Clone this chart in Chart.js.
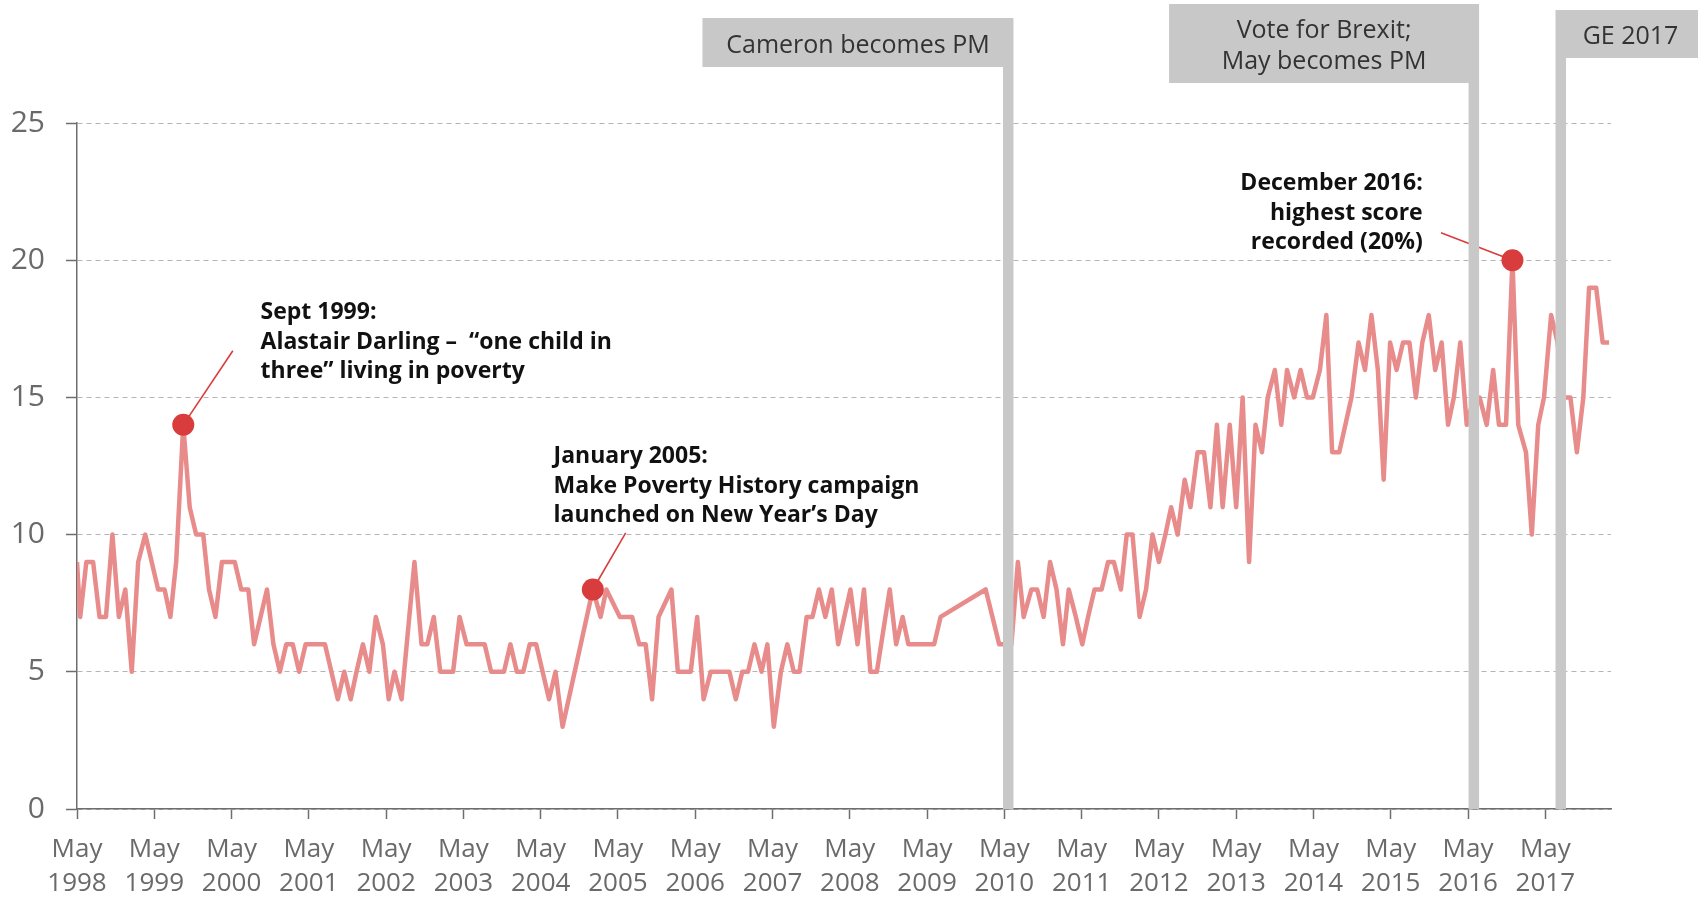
<!DOCTYPE html>
<html>
<head>
<meta charset="utf-8">
<script src="https://cdn.jsdelivr.net/npm/chart.js@4.4.1/dist/chart.umd.min.js"></script>
<style>
	html, body { margin: 0; padding: 0; background: #fff; }
	#chart { display: block; }
</style>
</head>
<body>
<canvas id="chart" width="1698" height="897"></canvas>
<script>
// x values are months counted from May 1998 (the "May 1998" tick is 0)
let MONTHS = [
	0, 0.5, 1.45, 2.5, 3.5, 4.5, 5.5, 6.5, 7.5, 8.5, 9.5, 10.6, 11.6, 12.6, 13.6, 14.5, 15.4, 16.5, 17.5, 18.5,
	19.6, 20.5, 21.5, 22.5, 23.5, 24.5, 25.5, 26.6, 27.5, 28.5, 29.5, 30.5, 31.5, 32.5, 33.5, 34.5, 35.5, 36.5, 37.5, 38.5,
	39.5, 40.5, 41.5, 42.5, 43.4, 44.4, 45.4, 46.4, 47.5, 48.4, 49.3, 50.4, 52.4, 53.5, 54.4, 55.4, 56.4, 57.4, 58.4, 59.4,
	60.5, 61.5, 62.5, 63.3, 64.3, 65.3, 66.3, 67.3, 68.3, 69.3, 70.3, 71.3, 72.3, 73.3, 74.3, 75.4, 80.1, 81.3, 82.2, 84.3,
	85.3, 86.2, 87.3, 88.3, 89.3, 90.3, 92.3, 93.3, 94.3, 95.3, 96.3, 97.3, 98.4, 99.3, 100.3, 101.3, 102.3, 103.3, 104.2, 105.2,
	106.3, 107.2, 108.2, 109.3, 110.3, 111.3, 112.2, 113.3, 114.2, 115.2, 116.2, 117.2, 118.2, 120.1, 121.2, 122.2, 123.2, 124.2, 126.2, 127.2,
	128.2, 129.1, 130.1, 131.1, 132.0, 133.1, 134.1, 141.1, 143.2, 145.1, 146.1, 147.0, 148.2, 149.1, 150.1, 151.1, 152.1, 153.1, 154.0, 155.1,
	156.1, 157.0, 158.0, 159.1, 160.1, 161.0, 162.1, 163.0, 163.9, 165.0, 166.0, 167.0, 168.0, 169.0, 169.9, 170.9, 172.0, 172.9, 174.0, 175.0,
	176.0, 177.0, 177.9, 179.0, 180.0, 181.0, 182.0, 183.0, 184.0, 184.9, 186.0, 187.0, 187.9, 189.0, 190.0, 191.0, 191.9, 193.0, 194.0, 194.9,
	196.0, 197.9, 199.0, 200.0, 201.0, 202.0, 202.9, 203.9, 204.9, 205.9, 206.9, 207.9, 208.9, 209.9, 210.9, 211.9, 212.9, 213.8, 214.8, 215.8,
	216.9, 217.8, 218.9, 219.9, 220.8, 221.9, 222.9, 223.8, 225.0, 225.9, 226.9, 227.8, 228.9, 229.9, 230.8, 231.9, 232.9, 233.9, 234.8, 235.9,
	236.9, 237.9,
];
let SCORES = [
	9, 7, 9, 9, 7, 7, 10, 7, 8, 5, 9, 10, 9, 8, 8, 7, 9, 14, 11, 10,
	10, 8, 7, 9, 9, 9, 8, 8, 6, 7, 8, 6, 5, 6, 6, 5, 6, 6, 6, 6,
	5, 4, 5, 4, 5, 6, 5, 7, 6, 4, 5, 4, 9, 6, 6, 7, 5, 5, 5, 7,
	6, 6, 6, 6, 5, 5, 5, 6, 5, 5, 6, 6, 5, 4, 5, 3, 8, 7, 8, 7,
	7, 7, 6, 6, 4, 7, 8, 5, 5, 5, 7, 4, 5, 5, 5, 5, 4, 5, 5, 6,
	5, 6, 3, 5, 6, 5, 5, 7, 7, 8, 7, 8, 6, 8, 6, 8, 5, 5, 8, 6,
	7, 6, 6, 6, 6, 6, 7, 8, 6, 6, 9, 7, 8, 8, 7, 9, 8, 6, 8, 7,
	6, 7, 8, 8, 9, 9, 8, 10, 10, 7, 8, 10, 9, 10, 11, 10, 12, 11, 13, 13,
	11, 14, 11, 14, 11, 15, 9, 14, 13, 15, 16, 14, 16, 15, 16, 15, 15, 16, 18, 13,
	13, 15, 17, 16, 18, 16, 12, 17, 16, 17, 17, 15, 17, 18, 16, 17, 14, 15, 17, 14,
	15, 15, 14, 16, 14, 14, 20, 14, 13, 10, 14, 15, 18, 17, 15, 15, 13, 15, 19, 19,
	17, 17,
];

let TICK_MONTHS = [0, 12, 24, 36, 48, 60, 72, 84, 96, 108, 120, 132, 144, 156, 168, 180, 192, 204, 216, 228];
let TICK_YEARS = ['1998', '1999', '2000', '2001', '2002', '2003', '2004', '2005', '2006', '2007',
	'2008', '2009', '2010', '2011', '2012', '2013', '2014', '2015', '2016', '2017'];

let HIGHLIGHT_MONTHS = [16.5, 80.1, 222.9];
let HIGHLIGHT_SCORES = [14, 8, 20];
let HIGHLIGHT_NOTES = [
	['Sept 1999:', 'Alastair Darling \u2013  \u201cone child in', 'three\u201d living in poverty'],
	['January 2005:', 'Make Poverty History campaign', 'launched on New Year\u2019s Day'],
	['December 2016:', 'highest score', 'recorded (20%)'],
];

let EVENT_MONTHS = [144.6, 216.9, 230.4];
let EVENT_LABELS = [['Cameron becomes PM'], ['Vote for Brexit;', 'May becomes PM'], ['GE 2017']];

// styling / layout
let FONT = "'Open Sans', sans-serif";
let LINE_COLOR = '#e88b8b';
let MARK_COLOR = '#d93c3c';
let EVENT_COLOR = '#c8c8c8';
let AXIS_COLOR = '#6e6e6e';
let TICK_COLOR = '#6a6a6a';
let GRID_COLOR = '#b4b4b4';
let BAR_WIDTH = 10.5;

// note text anchor + connector end, in data units
let NOTE_LAYOUT = [
	{ x: 28.5, y: 18.12, align: 'left', lx: 24.2, ly: 16.7 },
	{ x: 74.0, y: 12.87, align: 'left', lx: 85.2, ly: 10.06 },
	{ x: 208.96, y: 22.82, align: 'right', lx: 211.8, ly: 21.0 },
];
// label boxes above the event bars (pixels)
let EVENT_BOXES = [
	{ width: 311, top: 18, height: 49, align: 'right' },
	{ width: 310, top: 4, height: 79, align: 'right' },
	{ width: 150, top: 10, height: 48, align: 'left' },
];

let linePoints = MONTHS.map((m, i) => ({ x: m, y: SCORES[i] }));
let highlightPoints = HIGHLIGHT_MONTHS.map((m, i) => ({ x: m, y: HIGHLIGHT_SCORES[i] }));

let notesPlugin = {
	id: 'notes',
	beforeDatasetsDraw(chart) {
		let ctx = chart.ctx;
		let xs = chart.scales.x;
		let ys = chart.scales.y;
		ctx.save();
		ctx.strokeStyle = MARK_COLOR;
		ctx.lineWidth = 1.6;
		for (let i = 0; i < NOTE_LAYOUT.length; i++) {
			ctx.beginPath();
			ctx.moveTo(xs.getPixelForValue(HIGHLIGHT_MONTHS[i]), ys.getPixelForValue(HIGHLIGHT_SCORES[i]));
			ctx.lineTo(xs.getPixelForValue(NOTE_LAYOUT[i].lx), ys.getPixelForValue(NOTE_LAYOUT[i].ly));
			ctx.stroke();
		}
		ctx.restore();
	},
	afterDatasetsDraw(chart) {
		let ctx = chart.ctx;
		let xs = chart.scales.x;
		let ys = chart.scales.y;
		ctx.save();

		// event bars and their label boxes
		for (let i = 0; i < EVENT_MONTHS.length; i++) {
			let cx = xs.getPixelForValue(EVENT_MONTHS[i]);
			let box = EVENT_BOXES[i];
			let left = box.align === 'right' ? cx + BAR_WIDTH / 2 - box.width : cx - BAR_WIDTH / 2;
			ctx.fillStyle = EVENT_COLOR;
			ctx.fillRect(cx - BAR_WIDTH / 2, box.top + box.height, BAR_WIDTH, chart.chartArea.bottom - box.top - box.height);
			ctx.fillRect(left, box.top, box.width, box.height);

			ctx.fillStyle = '#333333';
			ctx.font = '25px ' + FONT;
			ctx.textAlign = 'center';
			ctx.textBaseline = 'middle';
			let lines = EVENT_LABELS[i];
			let mid = box.top + box.height / 2 + 3;
			for (let k = 0; k < lines.length; k++) {
				ctx.fillText(lines[k], left + box.width / 2, mid + (k - (lines.length - 1) / 2) * 31.5);
			}
		}

		// bold notes
		ctx.fillStyle = '#111111';
		ctx.font = 'bold 23px ' + FONT;
		ctx.textBaseline = 'middle';
		for (let i = 0; i < HIGHLIGHT_NOTES.length; i++) {
			let lay = NOTE_LAYOUT[i];
			let tx = xs.getPixelForValue(lay.x);
			let ty = ys.getPixelForValue(lay.y);
			ctx.textAlign = lay.align;
			for (let k = 0; k < HIGHLIGHT_NOTES[i].length; k++) {
				ctx.fillText(HIGHLIGHT_NOTES[i][k], tx, ty + 1 + k * 29.2);
			}
		}
		ctx.restore();
	},
};

Chart.defaults.font.family = FONT;

var ctx = document.getElementById('chart').getContext('2d');
var povertyChart = new Chart(ctx, {
	type: 'line',
	data: {
		datasets: [
			{
				data: highlightPoints,
				showLine: false,
				pointRadius: 11,
				pointHoverRadius: 11,
				pointBackgroundColor: MARK_COLOR,
				pointBorderWidth: 0,
			},
			{
				data: linePoints,
				borderColor: LINE_COLOR,
				borderWidth: 4.5,
				borderJoinStyle: 'round',
				pointRadius: 0,
				tension: 0,
			},
		],
	},
	options: {
		responsive: false,
		animation: false,
		layout: { padding: { top: 123, right: 87, left: 0, bottom: 0 } },
		plugins: {
			legend: { display: false },
			tooltip: { enabled: false },
		},
		scales: {
			x: {
				type: 'linear',
				min: 0,
				max: 238.2,
				afterBuildTicks: (scale) => {
					scale.ticks = TICK_MONTHS.map((v) => ({ value: v }));
				},
				afterFit: (scale) => {
					scale.height = 88;
				},
				ticks: {
					autoSkip: false,
					maxRotation: 0,
					padding: 14,
					color: TICK_COLOR,
					font: { size: 26, lineHeight: 1.3 },
					callback: (value, index) => ['May', TICK_YEARS[index]],
				},
				grid: { drawOnChartArea: false, tickLength: 10, tickColor: AXIS_COLOR, tickWidth: 1.5 },
				border: { color: AXIS_COLOR, width: 1.5 },
			},
			y: {
				min: 0,
				max: 25,
				afterFit: (scale) => {
					scale.width = 77;
				},
				ticks: {
					stepSize: 5,
					padding: 21,
					color: TICK_COLOR,
					font: { size: 30 },
				},
				grid: { color: GRID_COLOR, lineWidth: 1, tickLength: 11, tickColor: AXIS_COLOR, tickWidth: 1.5 },
				border: { color: AXIS_COLOR, width: 1.5, dash: [5, 4] },
			},
		},
	},
	plugins: [notesPlugin],
});
</script>
</body>
</html>
